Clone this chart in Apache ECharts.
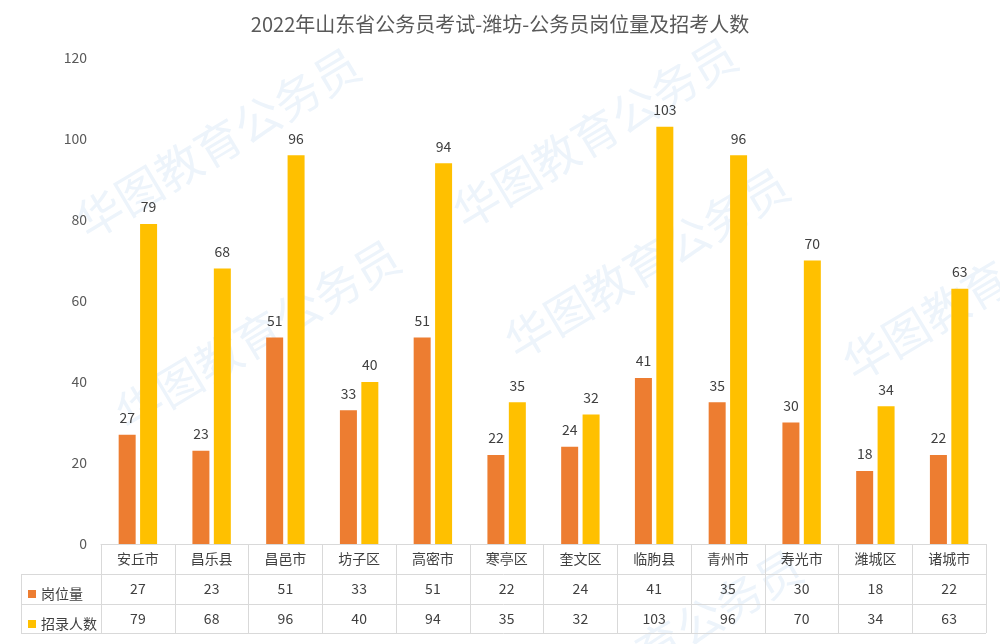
<!DOCTYPE html>
<html>
<head>
<meta charset="utf-8">
<script src="https://cdn.jsdelivr.net/npm/echarts@6/dist/echarts.min.js"></script>
<style>
html,body{margin:0;padding:0;background:#fff;}
#chart{width:1000px;height:644px;}
</style>
</head>
<body>
<div id="chart"></div>
<script>
const titleText = '2022年山东省公务员考试-潍坊-公务员岗位量及招考人数';
const categories = ['安丘市','昌乐县','昌邑市','坊子区','高密市','寒亭区','奎文区','临朐县','青州市','寿光市','潍城区','诸城市'];
const seriesNames = ['岗位量','招录人数'];
const posts = [27,23,51,33,51,22,24,41,35,30,18,22];
const hires = [79,68,96,40,94,35,32,103,96,70,34,63];
const yTicks = {min:0, max:120, interval:20};
const watermark = '华图教育公务员';
const colors = ['#ED7D31','#FFC000'];

const FONT = '"Noto Sans CJK SC","Microsoft YaHei",sans-serif';
const gridColor = '#d9d9d9';
const chart = echarts.init(document.getElementById('chart'), null, {renderer:'canvas'});

function rowAxis(idx, values){
  return {
    type:'category', data: categories, position:'bottom', offset: 30*idx,
    gridIndex:0,
    axisLine:{show:false}, axisTick:{show:false}, splitLine:{show:false},
    axisLabel:{interval:0, margin:8, fontSize:14, color:'#404040', fontFamily:FONT,
      formatter:(v,i)=>String(values[i])}
  };
}

const wmPos = [[218,143],[258,335],[595,133],[647,263],[985,285],[660,645]];
const graphics = wmPos.map(p=>({
  type:'text', x:p[0], y:p[1], rotation: 31*Math.PI/180, silent:true, z:-10,
  style:{text:watermark, fill:'#edf4fb', font:'46px '+FONT, align:'center', verticalAlign:'middle'}
}));

const option = {
  backgroundColor:'#fff',
  animation:false,
  title:{text:titleText, left:'center', top:9,
    textStyle:{fontSize:20, fontWeight:'normal', color:'#595959', fontFamily:FONT}},
  legend:[
    {data:[seriesNames[0]], left:23, top:582, itemWidth:8, itemHeight:8, icon:'rect',
      textStyle:{fontSize:14, color:'#404040', fontFamily:FONT}, selectedMode:false},
    {data:[seriesNames[1]], left:23, top:612, itemWidth:8, itemHeight:8, icon:'rect',
      textStyle:{fontSize:14, color:'#404040', fontFamily:FONT}, selectedMode:false}
  ],
  grid:{left:101, right:14, top:58, bottom:100, containLabel:false},
  xAxis:[
    {type:'category', data:categories, position:'bottom',
      axisLine:{show:true, lineStyle:{color:gridColor, width:1}},
      axisTick:{show:true, interval:0, length:89, lineStyle:{color:gridColor, width:1}},
      axisLabel:{interval:0, margin:8, fontSize:14, color:'#404040', fontFamily:FONT},
      splitLine:{show:false}},
    rowAxis(1, posts),
    rowAxis(2, hires)
  ],
  yAxis:{type:'value', min:yTicks.min, max:yTicks.max, interval:yTicks.interval,
    axisLine:{show:false}, axisTick:{show:false}, splitLine:{show:false},
    axisLabel:{fontSize:14, color:'#595959', margin:14, fontFamily:FONT}},
  series:[
    {name:seriesNames[0], type:'bar', data:posts, xAxisIndex:0, barWidth:17, barGap:'26%',
      itemStyle:{color:colors[0]},
      label:{show:true, position:'top', distance:10, fontSize:14, color:'#404040', fontFamily:FONT}},
    {name:seriesNames[1], type:'bar', data:hires, xAxisIndex:0, barWidth:17, barGap:'26%',
      itemStyle:{color:colors[1]},
      label:{show:true, position:'top', distance:10, fontSize:14, color:'#404040', fontFamily:FONT}}
  ],
  graphic: graphics
};
chart.setOption(option);

// table lines derived from the grid's coordinate system
const rect = chart.getModel().getComponent('grid',0).coordinateSystem.getRect();
const x0 = rect.x, x1 = rect.x + rect.width, yb = rect.y + rect.height;
const tableLeft = 21;
const lineStyle = {stroke:gridColor, lineWidth:1};
const tl = [];
[30,60,89].forEach(d=>{
  tl.push({type:'line', silent:true, shape:{x1:tableLeft, y1:Math.round(yb+d)+0.5, x2:x1, y2:Math.round(yb+d)+0.5}, style:lineStyle});
});
tl.push({type:'line', silent:true, shape:{x1:tableLeft+0.5, y1:yb+30, x2:tableLeft+0.5, y2:yb+89}, style:lineStyle});
chart.setOption({graphic: graphics.concat(tl)});
</script>
</body>
</html>
